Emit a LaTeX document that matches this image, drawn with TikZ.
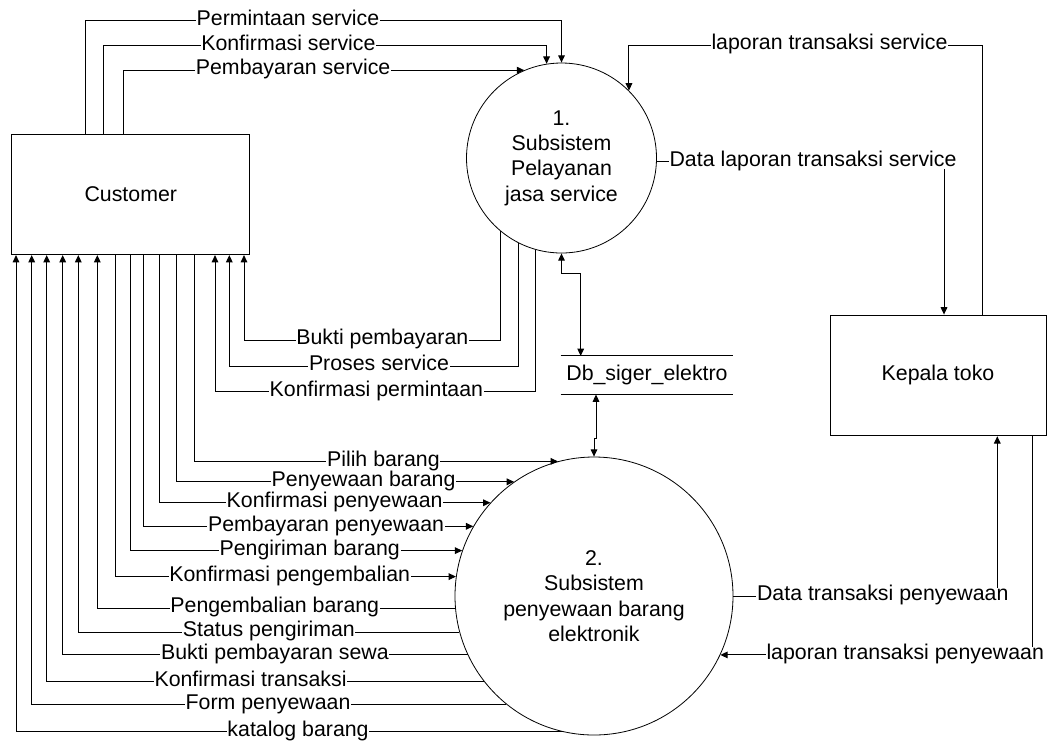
\documentclass[tikz,border=0pt]{standalone}
\usepackage{fontspec}
\setmainfont{Liberation Sans}
\usetikzlibrary{arrows.meta}

\begin{document}
\begin{tikzpicture}[x=0.75pt, y=-0.75pt, font=\fontsize{16}{19}\selectfont]
\tikzstyle{entity} = [rectangle, draw=black, line width=0.75pt, text centered]
\tikzstyle{process} = [circle, draw=black, line width=0.6pt, align=center, inner sep=0pt]
\tikzstyle{datastore} = [rectangle, minimum width=129pt, minimum height=28.5pt]
\tikzstyle{arrow} = [line width=0.75pt, ->, >={Triangle[length=5.5pt, width=5pt]}]
\tikzstyle{flowlabel} = [fill=white, inner xsep=0.5pt, inner ysep=0pt, text height=0.93em, text depth=0.21em]
\useasboundingbox (0,0) rectangle (1057,744);
 % bentuk
\node (cust) [entity, minimum width=178.7pt, minimum height=90.4pt] at (130.8,194.3) {Customer};
\node (kep) [entity, minimum width=162pt, minimum height=90.5pt] at (938,375.4) {Kepala toko};
\node (c1) [process, minimum size=142.5pt] at (561.5,158) {1.\\Subsistem\\Pelayanan\\jasa service};
\node (c2) [process, minimum size=208.5pt] at (594,596) {2.\\Subsistem\\penyewaan barang\\elektronik};
\node (db) [datastore] at (647,375.2) {Db\_siger\_elektro};
\draw [line width=0.75pt] (db.north west) -- (db.north east) (db.south west) -- (db.south east);

 % aliran data
\draw [arrow] (85,0 |- cust.north) -- (85,20.7) -| node[flowlabel, pos=0.213] {Permintaan service} (c1.north);
\draw [arrow] (103,0 |- cust.north) -- (103,45.7) -| node[flowlabel, pos=0.209] {Konfirmasi service} (c1.99);
\draw [arrow] (123,0 |- cust.north) |- node[flowlabel, pos=0.712] {Pembayaran service} (c1.113);
\draw [arrow] (982,0 |- kep.north) -- (982,45) -| node[flowlabel, pos=0.216] {laporan transaksi service} (c1.45);
\draw [arrow] (c1.358) -| node[flowlabel, pos=0.272] {Data laporan transaksi service} (944,0 |- kep.north);
\draw [arrow] (c2.east) -| node[flowlabel, pos=0.283] {Data transaksi penyewaan} (997.3,0 |- kep.south);
\draw [arrow] (1032.7,0 |- kep.south) |- node[flowlabel, pos=0.704] {laporan transaksi penyewaan} (c2.335);

\draw [arrow] (c1.230) |- node[flowlabel, pos=0.73] {Bukti pembayaran} (244,340) -- (244,0 |- cust.south);
\draw [arrow] (c1.243) |- node[flowlabel, pos=0.741] {Proses service} (229.3,366) -- (229.3,0 |- cust.south);
\draw [arrow] (c1.254) |- node[flowlabel, pos=0.748] {Konfirmasi permintaan} (215,391.7) -- (215,0 |- cust.south);

\draw [arrow] (159,0 |- cust.south) |- node[flowlabel, pos=0.765] {Konfirmasi penyewaan} (c2.138);
\draw [arrow] (143.3,0 |- cust.south) |- node[flowlabel, pos=0.777] {Pembayaran penyewaan} (c2.150);
\draw [arrow] (194.3,0 |- cust.south) |- node[flowlabel, pos=0.76] {Pilih barang} (c2.105);
\draw [arrow] (176.7,0 |- cust.south) |- node[flowlabel, pos=0.777] {Penyewaan barang} (c2.125);
\draw [arrow] (130.7,0 |- cust.south) |- node[flowlabel, pos=0.77] {Pengiriman barang} (c2.161);
\draw [arrow] (115.3,0 |- cust.south) |- node[flowlabel, pos=0.756] {Konfirmasi pengembalian} (c2.172);

\draw [arrow] (c2.185) -| node[flowlabel, pos=0.252] {Pengembalian barang} (97.3,0 |- cust.south);
\draw [arrow] (c2.195) -| node[flowlabel, pos=0.25] {Status pengiriman} (78.3,0 |- cust.south);
\draw [arrow] (c2.205) -| node[flowlabel, pos=0.238] {Bukti pembayaran sewa} (62.7,0 |- cust.south);
\draw [arrow] (c2.218) -| node[flowlabel, pos=0.267] {Konfirmasi transaksi} (46.7,0 |- cust.south);
\draw [arrow] (c2.231) -| node[flowlabel, pos=0.251] {Form penyewaan} (31.7,0 |- cust.south);
\draw [arrow] (c2.257) -| node[flowlabel, pos=0.242] {katalog barang} (16,0 |- cust.south);

\draw [arrow, <->] (c1.south) |- (580.7,273.3) -- (580.7,0 |- db.north);
\draw [arrow, <->] (596,0 |- db.south) |- (594,438) -- (c2.north);
\end{tikzpicture}
\end{document}
